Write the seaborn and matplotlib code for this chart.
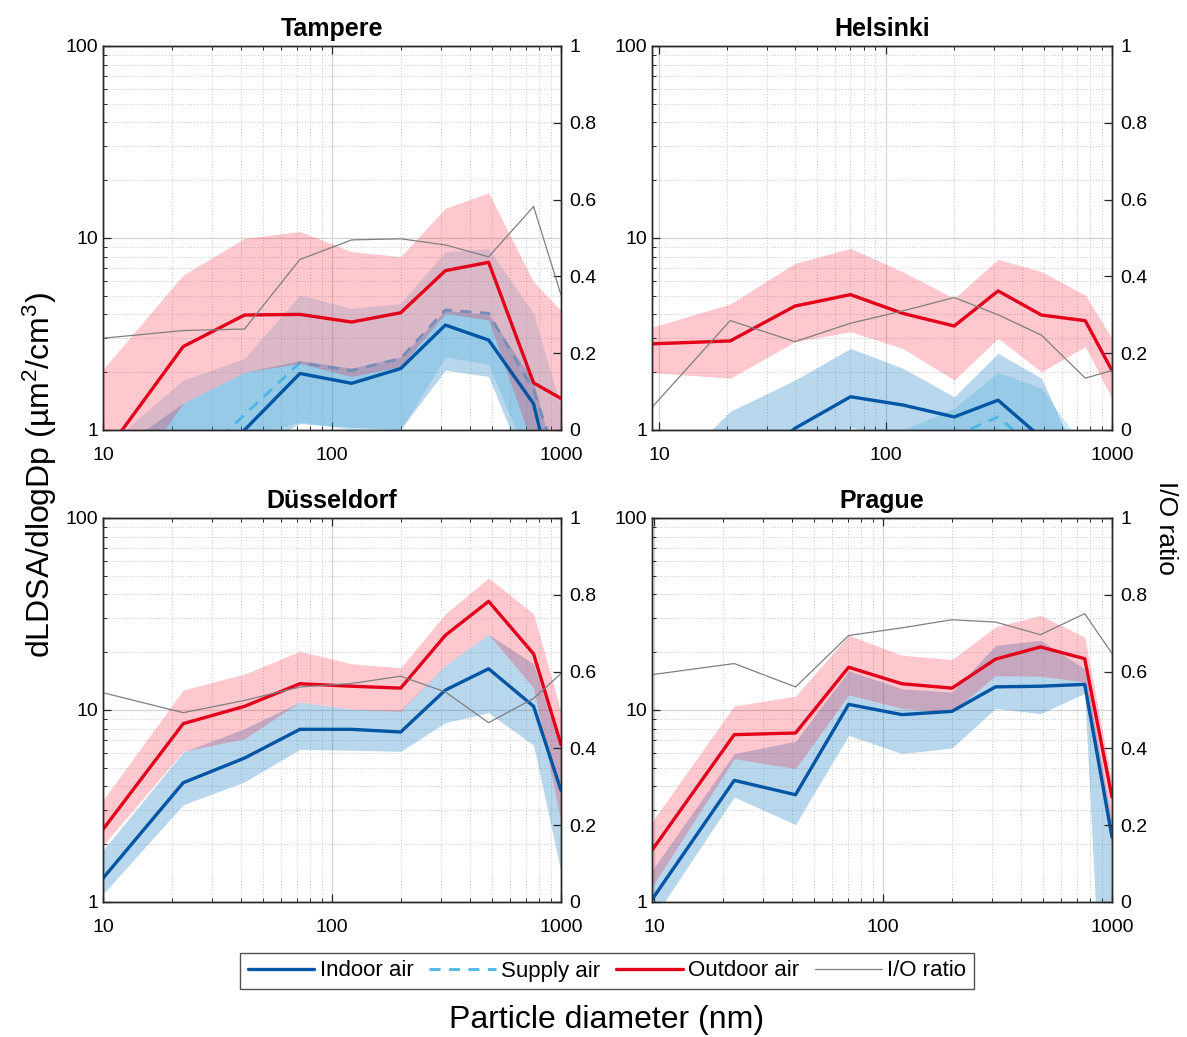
import numpy as np
import pandas as pd
import matplotlib
matplotlib.use("Agg")
import matplotlib.pyplot as plt
from matplotlib.lines import Line2D
from matplotlib.ticker import LogLocator, FixedLocator, NullFormatter, FuncFormatter
import seaborn as sns

# ---------------- data ----------------
cities = ["Tampere", "Helsinki", "Düsseldorf", "Prague"]

x_tampere = [10, 22.4, 41.5, 72.4, 121.8, 199.5, 312.7, 483, 759, 1000]
x_helsinki = [9.3, 20.6, 39.8, 70, 119, 201, 314, 488, 762, 1000]
x_dusseldorf = [10, 22.4, 41.5, 72.4, 121.8, 199.5, 312.7, 483, 759, 1000]
x_prague = [9.8, 22.4, 41.5, 70.8, 121, 200, 310, 487, 760, 1000]

# Tampere
tam_out = [0.73, 2.72, 3.97, 4.0, 3.65, 4.08, 6.76, 7.47, 1.76, 1.46]
tam_out_hi = [2.07, 6.42, 9.96, 10.8, 8.49, 8.0, 14.3, 17.2, 5.9, 4.2]
tam_out_lo = [0.35, 1.38, 2.0, 2.22, 1.9, 2.14, 4.05, 3.74, 0.8, 0.5]
tam_in = [0.3, 0.55, 1.0, 1.97, 1.75, 2.09, 3.52, 2.94, 1.37, 0.35]
tam_in_hi = [0.7, 1.38, 2.0, 2.3, 2.1, 2.4, 4.2, 4.0, 1.8, 0.5]
tam_in_lo = [0.3, 0.5, 0.75, 1.08, 1.03, 1.01, 2.05, 1.9, 0.5, 0.2]
tam_sup = [0.45, 0.6, 1.2, 2.24, 2.04, 2.36, 4.22, 4.05, 1.61, 0.6]
tam_sup_hi = [0.8, 1.82, 2.36, 5.05, 4.3, 4.57, 8.5, 8.8, 4.05, 1.3]
tam_sup_lo = [0.3, 0.6, 0.9, 1.1, 1.0, 1.0, 2.4, 2.2, 0.6, 0.3]
tam_io = [0.239, 0.259, 0.263, 0.444, 0.495, 0.498, 0.482, 0.451, 0.582, 0.352]

# Helsinki
hel_out = [2.81, 2.91, 4.42, 5.07, 4.05, 3.48, 5.30, 3.97, 3.71, 2.04]
hel_out_hi = [3.43, 4.53, 7.38, 8.83, 6.68, 4.85, 7.74, 6.68, 5.05, 3.0]
hel_out_lo = [1.99, 1.86, 2.88, 3.25, 2.66, 1.82, 3.0, 2.01, 2.72, 1.46]
hel_in = [0.3, 0.55, 1.02, 1.49, 1.35, 1.17, 1.43, 0.91, 0.5, 0.3]
hel_in_hi = [0.5, 1.25, 1.82, 2.66, 2.10, 1.49, 2.51, 1.86, 0.59, 0.4]
hel_in_lo = [0.2, 0.4, 0.6, 1.03, 0.9, 0.7, 0.8, 0.5, 0.3, 0.2]
hel_sup = [0.2, 0.3, 0.5, 0.7, 0.75, 0.93, 1.17, 0.75, 0.3, 0.2]
hel_sup_hi = [0.4, 0.6, 0.8, 1.0, 1.0, 1.3, 2.0, 1.65, 0.8, 0.4]
hel_sup_lo = [0.1, 0.15, 0.25, 0.4, 0.4, 0.5, 0.6, 0.4, 0.15, 0.1]
hel_io = [0.059, 0.285, 0.23, 0.278, 0.31, 0.345, 0.30, 0.247, 0.135, 0.155]

# Düsseldorf
dus_out = [2.39, 8.49, 10.45, 13.7, 13.3, 13.0, 24.5, 36.8, 19.6, 6.6]
dus_out_hi = [3.39, 12.7, 15.4, 20.2, 17.4, 16.6, 31.7, 48.7, 31.7, 9.77]
dus_out_lo = [1.97, 6.09, 7.09, 11.0, 10.1, 9.84, 17.1, 24.8, 13.0, 2.61]
dus_in = [1.33, 4.18, 5.62, 7.93, 7.93, 7.68, 12.7, 16.4, 10.45, 3.81]
dus_in_hi = [1.86, 6.04, 8.0, 11.0, 10.1, 9.96, 17.1, 24.8, 17.4, 6.17]
dus_in_lo = [1.1, 3.21, 4.22, 6.24, 6.17, 6.09, 8.59, 9.68, 6.55, 1.43]
dus_io = [0.545, 0.493, 0.525, 0.56, 0.569, 0.588, 0.547, 0.467, 0.53, 0.595]

# Prague
pra_out = [1.86, 7.44, 7.59, 16.7, 13.7, 13.0, 18.4, 21.3, 18.5, 3.52]
pra_out_hi = [2.61, 10.5, 11.8, 24.5, 19.3, 18.3, 27.1, 31.1, 24.0, 4.2]
pra_out_lo = [1.2, 5.58, 4.95, 12.0, 10.2, 9.77, 15.1, 15.0, 14.0, 1.9]
pra_in = [1.03, 4.3, 3.62, 10.7, 9.46, 9.84, 13.2, 13.3, 13.6, 2.18]
pra_in_hi = [1.46, 5.93, 6.87, 16.0, 12.9, 12.4, 21.7, 23.1, 16.4, 2.6]
pra_in_lo = [0.8, 3.52, 2.53, 7.38, 5.93, 6.34, 10.2, 9.57, 12.2, 0.02]
pra_io = [0.592, 0.621, 0.56, 0.694, 0.714, 0.735, 0.729, 0.696, 0.751, 0.647]

yticks_left = [1, 10, 100]
yticks_right = [0, 0.2, 0.4, 0.6, 0.8, 1]
xticks = [10, 100, 1000]

panels = {
    "Tampere": dict(x=x_tampere, out=tam_out, out_hi=tam_out_hi, out_lo=tam_out_lo,
                    ind=tam_in, in_hi=tam_in_hi, in_lo=tam_in_lo,
                    sup=tam_sup, sup_hi=tam_sup_hi, sup_lo=tam_sup_lo, io=tam_io),
    "Helsinki": dict(x=x_helsinki, out=hel_out, out_hi=hel_out_hi, out_lo=hel_out_lo,
                     ind=hel_in, in_hi=hel_in_hi, in_lo=hel_in_lo,
                     sup=hel_sup, sup_hi=hel_sup_hi, sup_lo=hel_sup_lo, io=hel_io),
    "Düsseldorf": dict(x=x_dusseldorf, out=dus_out, out_hi=dus_out_hi, out_lo=dus_out_lo,
                       ind=dus_in, in_hi=dus_in_hi, in_lo=dus_in_lo,
                       sup=None, sup_hi=None, sup_lo=None, io=dus_io),
    "Prague": dict(x=x_prague, out=pra_out, out_hi=pra_out_hi, out_lo=pra_out_lo,
                   ind=pra_in, in_hi=pra_in_hi, in_lo=pra_in_lo,
                   sup=None, sup_hi=None, sup_lo=None, io=pra_io),
}

# ---------------- style ----------------
sns.set_theme(style="white")
plt.rcParams["font.family"] = ["Liberation Sans", "DejaVu Sans"]
plt.rcParams["mathtext.fontset"] = "custom"
plt.rcParams["mathtext.rm"] = "Liberation Sans"
plt.rcParams["mathtext.it"] = "Liberation Sans:italic"
plt.rcParams["mathtext.bf"] = "Liberation Sans:bold"
plt.rcParams["text.color"] = "black"
plt.rcParams["axes.labelcolor"] = "black"
plt.rcParams["xtick.color"] = "black"
plt.rcParams["ytick.color"] = "black"

C_IN = "#0055a5"
C_SUP = "#4db6e2"
C_OUT = "#e2001a"
C_IO = "#7f7f7f"
F_BLUE = "#0072bd"
F_SUP = "#4db6e2"
F_RED = "#ff0020"
SPINE = "#262626"

fmt = FuncFormatter(lambda v, p: f"{v:g}")

fig = plt.figure(figsize=(11.87, 10.37), dpi=100)
W, H = 1187, 1037
boxes = {
    "Tampere": (103, 46, 561, 430),
    "Helsinki": (652, 46, 1112, 430),
    "Düsseldorf": (103, 518, 561, 902),
    "Prague": (652, 518, 1112, 902),
}

for city in cities:
    x0, y0, x1, y1 = boxes[city]
    ax = fig.add_axes([x0 / W, 1 - y1 / H, (x1 - x0) / W, (y1 - y0) / H])
    d = panels[city]
    x = d["x"]
    ax.set_xscale("log")
    ax.set_yscale("log")

    # bands
    if d["sup"] is not None:
        ax.fill_between(x, d["sup_lo"], d["sup_hi"], color=F_SUP, alpha=0.25, lw=0, zorder=1)
    ax.fill_between(x, d["in_lo"], d["in_hi"], color=F_BLUE, alpha=0.28, lw=0, zorder=1.1)

    if d["sup"] is not None:
        df_sup = pd.DataFrame({"x": x, "y": d["sup"]})
        sns.lineplot(data=df_sup, x="x", y="y", ax=ax, color=C_SUP, lw=2.0,
                     linestyle=(0, (4, 3)), zorder=2.1, estimator=None, sort=False)

    ax.fill_between(x, d["out_lo"], d["out_hi"], color=F_RED, alpha=0.22, lw=0, zorder=3)

    df_in = pd.DataFrame({"x": x, "y": d["ind"]})
    sns.lineplot(data=df_in, x="x", y="y", ax=ax, color=C_IN, lw=2.4, zorder=3.5,
                 estimator=None, sort=False)
    df_out = pd.DataFrame({"x": x, "y": d["out"]})
    sns.lineplot(data=df_out, x="x", y="y", ax=ax, color=C_OUT, lw=2.4, zorder=4,
                 estimator=None, sort=False)

    ax.set_ylim(1, 100)
    ax.set_xlabel("")
    ax.set_ylabel("")
    ax.set_title(city, fontsize=18, fontweight="bold", pad=7)

    ax2 = ax.twinx()
    df_io = pd.DataFrame({"x": x, "y": d["io"]})
    sns.lineplot(data=df_io, x="x", y="y", ax=ax2, color=C_IO, lw=0.9,
                 estimator=None, sort=False)
    ax2.set_ylim(0, 1)
    ax2.set_ylabel("")
    ax2.set_xlabel("")
    ax2.yaxis.set_major_locator(FixedLocator(yticks_right))
    ax2.yaxis.set_major_formatter(fmt)
    ax2.tick_params(axis="y", direction="in", length=6, width=0.9, colors=SPINE,
                    labelcolor="black", labelsize=14, pad=6)
    for s in ax2.spines.values():
        s.set_color(SPINE)
        s.set_linewidth(1.0)
    ax2.grid(False)

    # x / left-y formatting after twin creation (shared x axis)
    ax.set_xlim(x[0], 1000)
    ax.xaxis.set_major_locator(FixedLocator(xticks))
    ax.yaxis.set_major_locator(FixedLocator(yticks_left))
    ax.xaxis.set_minor_locator(LogLocator(base=10, subs=np.arange(2, 10)))
    ax.yaxis.set_minor_locator(LogLocator(base=10, subs=np.arange(2, 10)))
    ax.xaxis.set_minor_formatter(NullFormatter())
    ax.yaxis.set_minor_formatter(NullFormatter())
    ax.xaxis.set_major_formatter(fmt)
    ax.yaxis.set_major_formatter(fmt)
    ax.grid(which="major", color="#d4d4d4", lw=0.9, ls="-")
    ax.grid(which="minor", color="#c8c8c8", lw=0.7, ls=(0, (1, 2)))
    ax.set_axisbelow(True)
    ax.tick_params(axis="both", which="both", direction="in", colors=SPINE,
                   labelcolor="black", labelsize=14)
    ax.tick_params(axis="x", which="both", top=True, bottom=True)
    ax.tick_params(axis="y", which="both", left=True, right=False)
    ax.tick_params(which="major", length=6, width=0.9)
    ax.tick_params(which="minor", length=3, width=0.7)
    ax.tick_params(axis="x", which="major", pad=12)
    for s in ax.spines.values():
        s.set_color(SPINE)
        s.set_linewidth(1.0)

fig.text(40 / W, 1 - 475 / H, "dLDSA/dlogDp (µm$^2$/cm$^3$)", rotation=90,
         ha="center", va="center", fontsize=23)
fig.text(607 / W, 1 - 1020 / H, "Particle diameter (nm)", ha="center", va="center",
         fontsize=23)
fig.text(1166 / W, 1 - 528 / H, "I/O ratio", rotation=270, ha="center", va="center",
         fontsize=19)

handles = [
    Line2D([], [], color=C_IN, lw=2.4),
    Line2D([], [], color=C_SUP, lw=2.0, linestyle=(0, (4, 3))),
    Line2D([], [], color=C_OUT, lw=2.4),
    Line2D([], [], color=C_IO, lw=0.9),
]
labels = ["Indoor air", "Supply air", "Outdoor air", "I/O ratio"]
leg = fig.legend(handles, labels, loc="center", bbox_to_anchor=(607 / W, 1 - 971 / H),
                 ncol=4, fontsize=16, frameon=True, fancybox=False, handlelength=3.0,
                 handletextpad=0.25, columnspacing=0.7, borderpad=0.35)
leg.get_frame().set_edgecolor(SPINE)
leg.get_frame().set_linewidth(1.0)

fig.savefig("out.png", dpi=100)
